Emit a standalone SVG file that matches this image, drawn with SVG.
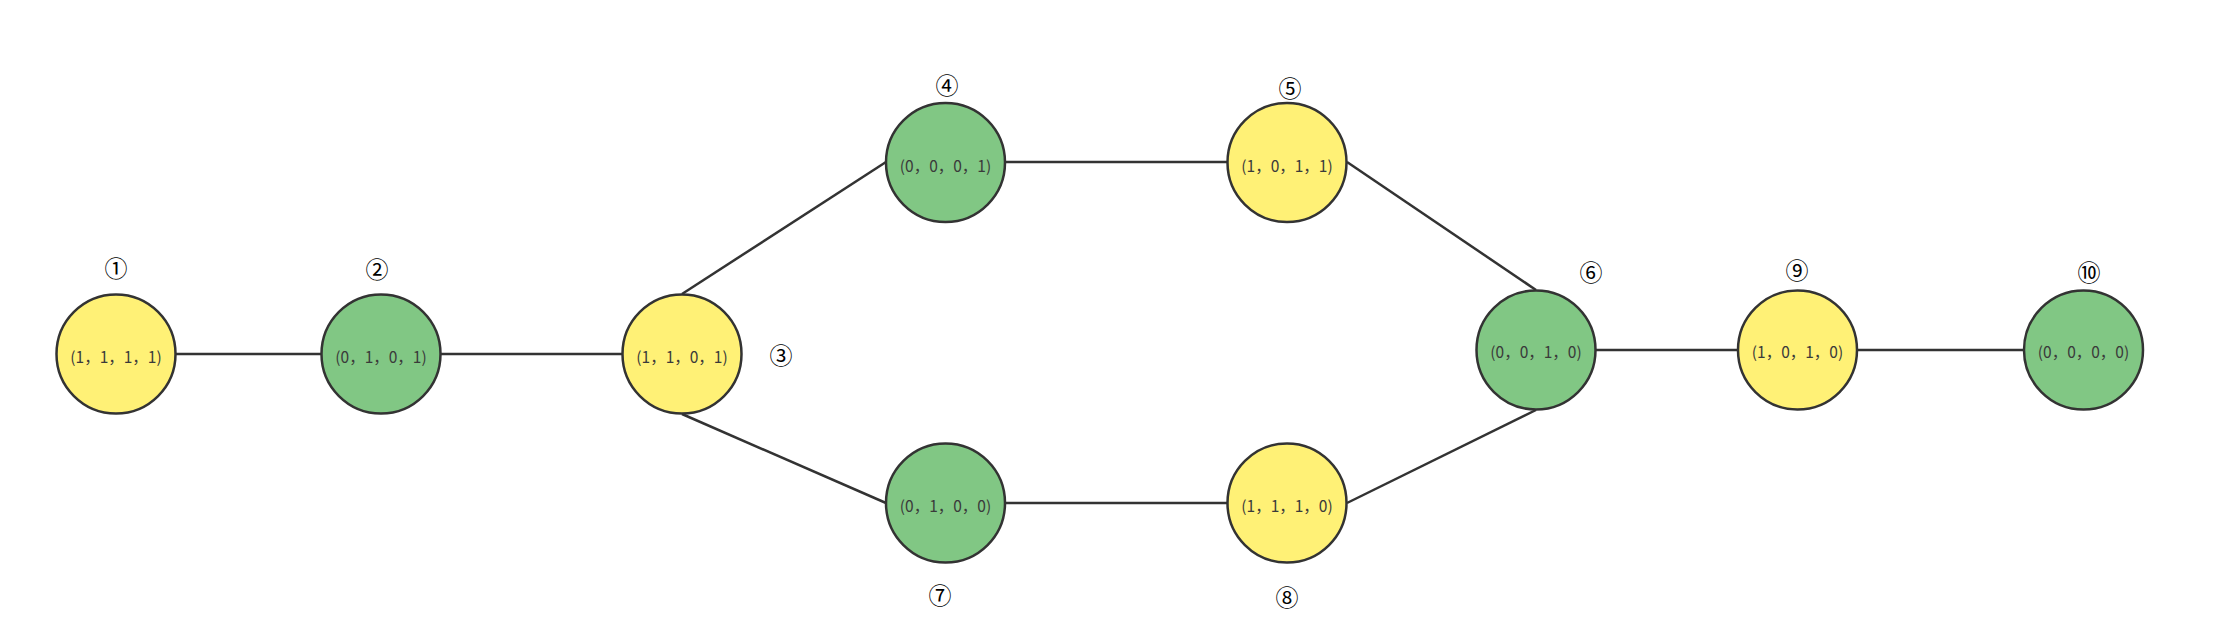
<svg xmlns="http://www.w3.org/2000/svg" width="2220" height="625" viewBox="0 0 2220 625">
<style>
.node circle{stroke:#333333;stroke-width:2.5}
.y circle{fill:#FFF176}
.g circle{fill:#81C784}
.t{font-family:"Noto Sans CJK SC","Noto Sans",sans-serif;font-size:15.5px;fill:#3a3a3a;text-anchor:middle;dominant-baseline:central}
.n{font-family:"Noto Sans CJK SC","Noto Sans",sans-serif;font-size:23px;fill:#000000;text-anchor:middle;dominant-baseline:central}
#edges line{stroke:#333333;stroke-width:2.5}
</style>
<rect width="2220" height="625" fill="#ffffff"/>
<g id="edges">
<line x1="176" y1="354" x2="321" y2="354"/>
<line x1="441" y1="354" x2="622" y2="354"/>
<line x1="682" y1="294" x2="886" y2="162"/>
<line x1="682" y1="414" x2="886" y2="503"/>
<line x1="1005" y1="162" x2="1228" y2="162"/>
<line x1="1005" y1="503" x2="1228" y2="503"/>
<line x1="1347" y1="162" x2="1536" y2="290"/>
<line x1="1347" y1="503" x2="1536" y2="410"/>
<line x1="1596" y1="350" x2="1738" y2="350"/>
<line x1="1857" y1="350" x2="2024" y2="350"/>
</g>
<g id="node1" class="node y"><circle cx="116" cy="354" r="59.5"/><text class="t" x="116" y="356">(1，1，1，1)</text><text class="n" x="116" y="267">①</text></g>
<g id="node2" class="node g"><circle cx="381" cy="354" r="59.5"/><text class="t" x="381" y="356">(0，1，0，1)</text><text class="n" x="377" y="268">②</text></g>
<g id="node3" class="node y"><circle cx="682" cy="354" r="59.5"/><text class="t" x="682" y="356">(1，1，0，1)</text><text class="n" x="781" y="354">③</text></g>
<g id="node4" class="node g"><circle cx="945.5" cy="162.5" r="59.5"/><text class="t" x="945.5" y="165">(0，0，0，1)</text><text class="n" x="947" y="84">④</text></g>
<g id="node5" class="node y"><circle cx="1287" cy="162.5" r="59.5"/><text class="t" x="1287" y="165">(1，0，1，1)</text><text class="n" x="1290" y="87">⑤</text></g>
<g id="node6" class="node g"><circle cx="1536" cy="350" r="59.5"/><text class="t" x="1536" y="351">(0，0，1，0)</text><text class="n" x="1591" y="271">⑥</text></g>
<g id="node7" class="node g"><circle cx="945.5" cy="503" r="59.5"/><text class="t" x="945.5" y="505">(0，1，0，0)</text><text class="n" x="940" y="594">⑦</text></g>
<g id="node8" class="node y"><circle cx="1287" cy="503" r="59.5"/><text class="t" x="1287" y="505">(1，1，1，0)</text><text class="n" x="1287" y="596">⑧</text></g>
<g id="node9" class="node y"><circle cx="1797.5" cy="350" r="59.5"/><text class="t" x="1797.5" y="351">(1，0，1，0)</text><text class="n" x="1797" y="269">⑨</text></g>
<g id="node10" class="node g"><circle cx="2083.5" cy="350" r="59.5"/><text class="t" x="2083.5" y="351">(0，0，0，0)</text><text class="n" x="2089" y="271">⑩</text></g>
</svg>
